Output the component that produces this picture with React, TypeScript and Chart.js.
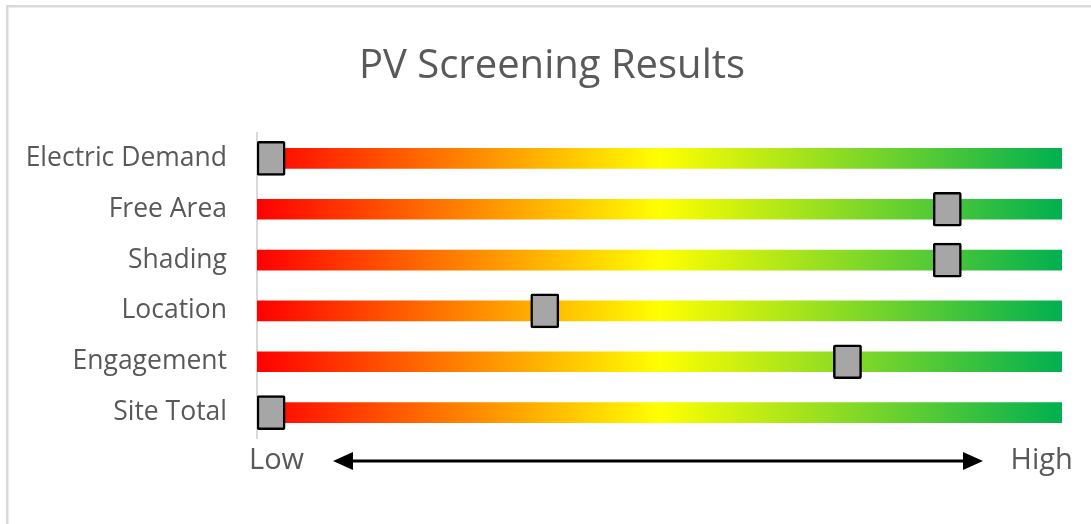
import React, { useEffect, useRef } from "react";
import { Chart, registerables } from "chart.js";

Chart.register(...registerables);

const TITLE = "PV Screening Results";
const categories = ["Electric Demand", "Free Area", "Shading", "Location", "Engagement", "Site Total"];
// marker start position on the Low(0) → High(100) scale
const scores = [0, 84, 84, 34, 71.6, 0];
const MARKER_SPAN = 3.5;
const RANGE_MIN = 0;
const RANGE_MAX = 100;
const lowLabel = "Low";
const highLabel = "High";
const gradientStops: [number, string][] = [
  [0, "#ff0000"],
  [0.5, "#ffff00"],
  [1, "#00b050"],
];

const FONT = "'Open Sans', 'DejaVu Sans', sans-serif";
const TEXT_COLOR = "#595959";

const decorPlugin = {
  id: "decor",
  afterDraw(chart: any) {
    const ctx = chart.ctx as CanvasRenderingContext2D;
    const W = chart.width;
    ctx.save();
    // chart frame (top and left visible)
    ctx.fillStyle = "#d9d9d9";
    ctx.fillRect(6, 5, W - 6, 2.5);
    ctx.fillRect(6, 5, 2.5, chart.height - 5);
    // title
    ctx.fillStyle = TEXT_COLOR;
    ctx.font = `40px ${FONT}`;
    ctx.textAlign = "center";
    ctx.textBaseline = "alphabetic";
    ctx.fillText(TITLE, 552, 77.5);
    // low / high
    ctx.font = `29px ${FONT}`;
    ctx.textAlign = "left";
    ctx.fillText(lowLabel, 249, 469);
    ctx.fillText(highLabel, 1010.5, 469);
    // arrow
    const y = 461;
    const x1 = 333, x2 = 983, head = 20, hh = 9;
    ctx.strokeStyle = "#000";
    ctx.fillStyle = "#000";
    ctx.lineWidth = 3;
    ctx.beginPath();
    ctx.moveTo(x1 + head - 2, y);
    ctx.lineTo(x2 - head + 2, y);
    ctx.stroke();
    ctx.beginPath();
    ctx.moveTo(x1, y);
    ctx.lineTo(x1 + head, y - hh);
    ctx.lineTo(x1 + head, y + hh);
    ctx.closePath();
    ctx.fill();
    ctx.beginPath();
    ctx.moveTo(x2, y);
    ctx.lineTo(x2 - head, y - hh);
    ctx.lineTo(x2 - head, y + hh);
    ctx.closePath();
    ctx.fill();
    ctx.restore();
  },
};

export default function App() {
  const canvasRef = useRef<HTMLCanvasElement | null>(null);

  useEffect(() => {
    if (!canvasRef.current) return;
    const chart = new Chart(canvasRef.current, {
      type: "bar",
      data: {
        labels: categories,
        datasets: [
          {
            label: "Score",
            data: scores.map((s) => [s, s + MARKER_SPAN]) as any,
            backgroundColor: "#a6a6a6",
            borderColor: "#000000",
            borderWidth: 2.5,
            borderSkipped: false,
            borderRadius: 2,
            barThickness: 34,
            grouped: false,
            order: 0,
          } as any,
          {
            label: "Range",
            data: categories.map(() => [RANGE_MIN, RANGE_MAX]) as any,
            backgroundColor: (c: any) => {
              const area = c.chart.chartArea;
              if (!area) return "#ffff00";
              const g = c.chart.ctx.createLinearGradient(area.left, 0, area.right, 0);
              gradientStops.forEach(([p, col]) => g.addColorStop(p, col));
              return g;
            },
            borderWidth: 0,
            barThickness: 20,
            grouped: false,
            order: 1,
          } as any,
        ],
      },
      options: {
        indexAxis: "y",
        animation: false,
        responsive: true,
        maintainAspectRatio: false,
        layout: { padding: { top: 133, bottom: 86, right: 29, left: 0 } },
        plugins: {
          legend: { display: false },
          tooltip: { enabled: false },
          title: { display: false },
        },
        scales: {
          x: { display: false, min: RANGE_MIN, max: RANGE_MAX },
          y: {
            grid: { display: false, drawTicks: false },
            border: { display: true, color: "#d9d9d9", width: 2 },
            ticks: {
              color: TEXT_COLOR,
              font: { family: FONT, size: 26.5 },
              padding: 30,
            },
            afterFit: (scale: any) => {
              scale.width = 257;
            },
          },
        },
      } as any,
      plugins: [decorPlugin],
    });
    return () => chart.destroy();
  }, []);

  return (
    <div style={{ position: "absolute", left: 0, top: 0, width: 1091, height: 524, background: "#fff" }}>
      <canvas ref={canvasRef} />
    </div>
  );
}
